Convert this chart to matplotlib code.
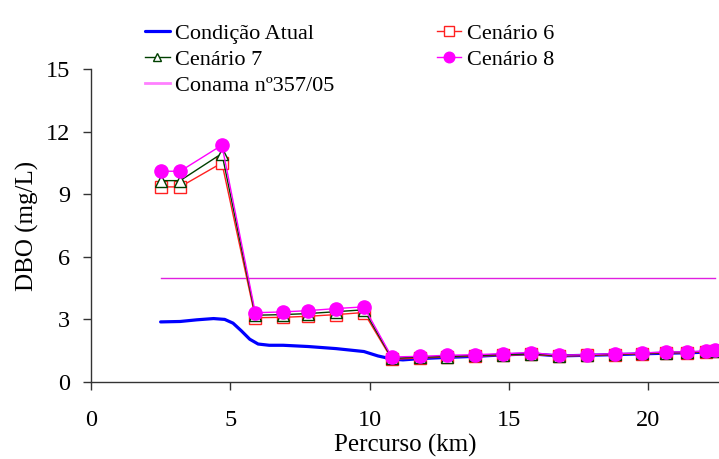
import matplotlib
matplotlib.use("Agg")
import matplotlib.pyplot as plt

# ---- data ----
km_sc = [2.5, 3.2, 4.7, 5.9, 6.9, 7.8, 8.8, 9.8, 10.8, 11.8, 12.8, 13.8, 14.8,
         15.8, 16.8, 17.8, 18.8, 19.8, 20.65, 21.4, 22.1, 22.4]
cen6 = [9.35, 9.35, 10.5, 3.08, 3.1, 3.15, 3.23, 3.33, 1.09, 1.15, 1.2, 1.24, 1.28,
        1.32, 1.24, 1.27, 1.31, 1.35, 1.39, 1.4, 1.45, 1.48]
cen7 = [9.65, 9.65, 10.95, 3.2, 3.23, 3.28, 3.37, 3.46, 1.14, 1.19, 1.22, 1.27, 1.31,
        1.35, 1.26, 1.29, 1.33, 1.37, 1.41, 1.42, 1.47, 1.5]
cen8 = [10.1, 10.1, 11.35, 3.32, 3.36, 3.42, 3.52, 3.6, 1.2, 1.23, 1.28, 1.31, 1.36,
        1.41, 1.28, 1.31, 1.36, 1.39, 1.44, 1.44, 1.49, 1.52]

km_atual = [2.5, 3.2, 3.8, 4.4, 4.8, 5.1, 5.4, 5.7, 6.0, 6.4, 6.9, 7.8, 8.8, 9.8,
            10.3, 10.8, 11.2, 11.8, 12.8, 13.8, 14.8, 15.8, 16.8, 17.8, 18.8, 19.8,
            20.65, 21.4, 22.1, 22.4]
atual = [2.88, 2.9, 2.98, 3.04, 3.0, 2.82, 2.45, 2.05, 1.82, 1.76, 1.76, 1.7, 1.6, 1.46,
         1.25, 1.1, 1.06, 1.12, 1.18, 1.23, 1.3, 1.35, 1.25, 1.28, 1.31, 1.35,
         1.38, 1.4, 1.43, 1.45]

km_conama = [2.5, 22.4]
conama = [5, 5]

x_ticks = [0, 5, 10, 15, 20]
y_ticks = [0, 3, 6, 9, 12, 15]

# ---- figure ----
plt.rcParams['font.family'] = ['Liberation Serif', 'DejaVu Serif']
W, H = 719, 459
fig = plt.figure(figsize=(W / 100, H / 100), dpi=100)
left, right, top, bottom = 91, 719, 69, 382
ax = fig.add_axes([left / W, 1 - bottom / H, (right - left) / W, (bottom - top) / H])

l_atual, = ax.plot(km_atual, atual, color='#0000FF', lw=2.3, label='Condição Atual',
                   solid_capstyle='round', zorder=3)
l6, = ax.plot(km_sc, cen6, color='#FF2020', lw=1.0, marker='s', ms=8.5,
              mfc='white', mec='#FF2020', mew=1.0, label='Cenário 6', zorder=4)
l7, = ax.plot(km_sc, cen7, color='#004000', lw=1.0, marker='^', ms=8,
              mfc='white', mec='#004000', mew=1.0, label='Cenário 7', zorder=5)
l8, = ax.plot(km_sc, cen8, color='#FF00FF', lw=1.0, marker='o', ms=9.5,
              mfc='#FF00FF', mec='#FF00FF', label='Cenário 8', zorder=6)
lc, = ax.plot(km_conama, conama, color='#E020E0', lw=1.0, label='Conama nº357/05',
              zorder=2)

ax.set_xlim(0, (right - left) / 27.85)
ax.set_ylim(0, 15)
ax.set_xticks(x_ticks)
ax.set_yticks(y_ticks)
for s in ['top', 'right']:
    ax.spines[s].set_visible(False)
for s in ['left', 'bottom']:
    ax.spines[s].set_color('#333333')
    ax.spines[s].set_linewidth(1.0)
ax.tick_params(axis='x', direction='out', length=6, width=1, color='#333333',
               labelsize=17.5, pad=14)
ax.tick_params(axis='y', direction='out', length=6, width=1, color='#333333',
               labelsize=17.5, pad=9)

ax.set_xlabel('Percurso (km)', fontsize=18, labelpad=2)
ax.set_ylabel('DBO (mg/L)', fontsize=18, labelpad=5)

handles = [l_atual, l7, lc, l6, l8]
leg = fig.legend(handles=handles, labels=[h.get_label() for h in handles],
                 ncol=2, loc='upper left', bbox_to_anchor=(134 / W, 1 - 12 / H),
                 frameon=False, fontsize=16, handlelength=1.1, handletextpad=0.25,
                 columnspacing=4.6, labelspacing=0.25, borderpad=0, markerscale=0.8)
for h in leg.legend_handles:
    if h.get_label() == 'Conama nº357/05':
        h.set_color('#FF80FF')
        h.set_linewidth(2)

fig.savefig('out.png', dpi=100)
